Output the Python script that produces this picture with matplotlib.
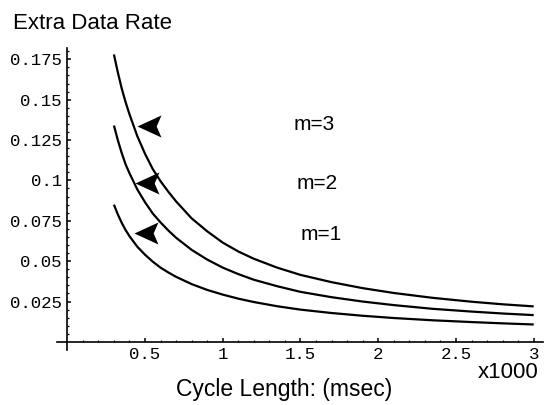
import matplotlib.pyplot as plt
from matplotlib.path import Path
from matplotlib.ticker import FixedLocator

# cycle length (x1000 msec) and extra data rate
cycle = [0.3, 0.325, 0.35, 0.375, 0.4, 0.45, 0.5, 0.55, 0.6, 0.65, 0.7, 0.8, 0.9,
         1.0, 1.1, 1.2, 1.35, 1.5, 1.7, 1.9, 2.1, 2.35, 2.6, 2.8, 3.0]
rate_m3 = [0.178, 0.167, 0.157, 0.1485, 0.141, 0.1275, 0.1165, 0.107, 0.0995, 0.093,
           0.087, 0.0765, 0.0685, 0.0615, 0.056, 0.0515, 0.046, 0.0415, 0.037, 0.0333,
           0.0303, 0.0273, 0.0249, 0.0233, 0.022]
rate_m2 = [0.134, 0.125, 0.117, 0.110, 0.1045, 0.0945, 0.0865, 0.0795, 0.074, 0.069,
           0.0645, 0.057, 0.051, 0.046, 0.042, 0.0385, 0.0345, 0.031, 0.0277, 0.025,
           0.0228, 0.0205, 0.0188, 0.0176, 0.0166]
rate_m1 = [0.085, 0.079, 0.0738, 0.0693, 0.0655, 0.059, 0.054, 0.0497, 0.046, 0.043,
           0.0403, 0.0358, 0.0322, 0.0293, 0.0268, 0.0247, 0.0221, 0.0200, 0.0179,
           0.0162, 0.0148, 0.0134, 0.0123, 0.0115, 0.0108]

labels = ["m=3", "m=2", "m=1"]
label_x = [1.59, 1.61, 1.63]
label_y = [0.1349, 0.0978, 0.0668]
arrow_x = [0.447, 0.434, 0.431]
arrow_y = [0.1337, 0.0986, 0.0676]

xticks = [0.5, 1, 1.5, 2, 2.5, 3]
xticklabels = ["0.5", "1", "1.5", "2", "2.5", "3"]
yticks = [0.025, 0.05, 0.075, 0.1, 0.125, 0.15, 0.175]
yticklabels = ["0.025", "0.05", "0.075", "0.1", "0.125", "0.15", "0.175"]

sans = "Liberation Sans"
mono = "Liberation Mono"

fig = plt.figure(figsize=(5.44, 4.05), dpi=100)
ax = fig.add_axes([0.1048, 0.1358, 0.8934, 0.7457])

for r in (rate_m3, rate_m2, rate_m1):
    ax.plot(cycle, r, color="black", lw=1.6, solid_capstyle="butt")

# notched arrowhead, tip at the origin
head = Path([(0, 0), (1, 0.46), (0.8, 0), (1, -0.46), (0, 0)],
            [Path.MOVETO, Path.LINETO, Path.LINETO, Path.LINETO, Path.CLOSEPOLY])
ax.plot(arrow_x, arrow_y, linestyle="none", marker=head, markersize=34.5,
        color="black", markeredgewidth=0)

for t, x, y in zip(labels, label_x, label_y):
    ax.text(x, y, t, fontsize=15, family=sans, ha="center", va="center")

ax.set_xlim(-0.066, 3.06)
ax.set_ylim(-0.005, 0.182)

for s in ("top", "right"):
    ax.spines[s].set_visible(False)
ax.spines["left"].set_position(("data", 0))
ax.spines["bottom"].set_position(("data", 0))
for s in ("left", "bottom"):
    ax.spines[s].set_linewidth(1.2)

ax.set_xticks(xticks)
ax.set_xticklabels(xticklabels, family=mono, fontsize=12.5)
ax.set_yticks(yticks)
ax.set_yticklabels(yticklabels, family=mono, fontsize=12.5)
ax.xaxis.set_minor_locator(FixedLocator([i / 10 for i in range(1, 31)]))
ax.yaxis.set_minor_locator(FixedLocator([i * 0.005 for i in range(1, 37)]))
ax.tick_params(which="major", direction="in", length=3, width=1.1)
ax.tick_params(which="minor", direction="in", length=1.6, width=0.9)
ax.tick_params(axis="y", which="major", pad=4)
ax.tick_params(axis="x", which="major", pad=3.5)

fig.text(13 / 544, 1 - 13 / 405, "Extra Data Rate", fontsize=16, family=sans,
         ha="left", va="top")
fig.text(284 / 544, 1 - 378 / 405, "Cycle Length: (msec)", fontsize=16.5,
         family=sans, ha="center", va="top")
fig.text(538 / 544, 1 - 362 / 405, "x1000", fontsize=16, family=sans,
         ha="right", va="top")

fig.savefig("out.png", dpi=100)
